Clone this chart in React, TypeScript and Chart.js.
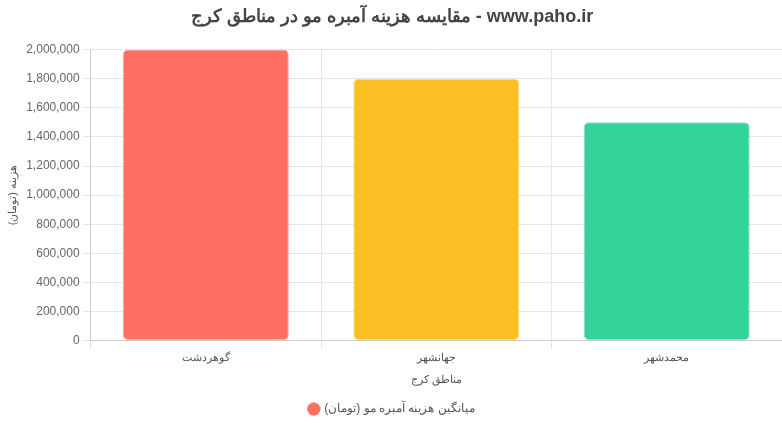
import React, { useEffect, useRef } from "react";
import { Chart, registerables } from "chart.js";

Chart.register(...registerables);

const categories = ["گوهردشت", "جهانشهر", "محمدشهر"];
const values = [2000000, 1800000, 1500000];
const barColors = ["#FF6F61", "#FBBF24", "#34D399"];
const seriesLabel = "میانگین هزینه آمبره مو (تومان)";
const titleText = "مقایسه هزینه آمبره مو در مناطق کرج - www.paho.ir";
const xTitle = "مناطق کرج";
const yTitle = "هزینه (تومان)";

const FONT = "Arial, 'Liberation Sans', sans-serif";

export default function App() {
  const ref = useRef<HTMLCanvasElement | null>(null);
  useEffect(() => {
    document.body.style.margin = "0";
    if (!ref.current) return;
    const chart = new Chart(ref.current, {
      type: "bar",
      data: {
        labels: categories,
        datasets: [
          {
            label: seriesLabel,
            data: values,
            backgroundColor: barColors,
            borderColor: barColors.map((c) => c + "99"),
            borderWidth: 1,
            borderRadius: 5,
            borderSkipped: false,
          },
        ],
      },
      options: {
        animation: false,
        responsive: true,
        maintainAspectRatio: false,
        layout: { padding: { left: 2 } },
        plugins: {
          title: {
            display: true,
            text: titleText,
            color: "#444",
            font: { size: 18, weight: "bold", family: FONT },
            padding: { top: 6, bottom: 22 },
          },
          legend: {
            position: "bottom",
            labels: {
              usePointStyle: true,
              pointStyle: "circle",
              boxWidth: 9,
              boxHeight: 9,
              padding: 12,
              color: "#555",
              font: { size: 12, family: FONT },
            },
          },
        },
        scales: {
          x: {
            title: {
              display: true,
              text: xTitle,
              color: "#555",
              padding: { top: 6, bottom: 4 },
              font: { size: 11, family: FONT },
            },
            ticks: { color: "#555", font: { size: 11, family: FONT } },
            grid: { color: "#e5e5e5" },
          },
          y: {
            beginAtZero: true,
            max: 2000000,
            title: {
              display: true,
              text: yTitle,
              color: "#555",
              font: { size: 11, family: FONT },
            },
            ticks: {
              color: "#666",
              stepSize: 200000,
              font: { size: 12, family: FONT },
            },
            grid: { color: "#e5e5e5" },
          },
        },
      },
    });
    return () => chart.destroy();
  }, []);
  return (
    <div style={{ width: 782, height: 425, position: "relative" }}>
      <canvas ref={ref} />
    </div>
  );
}
